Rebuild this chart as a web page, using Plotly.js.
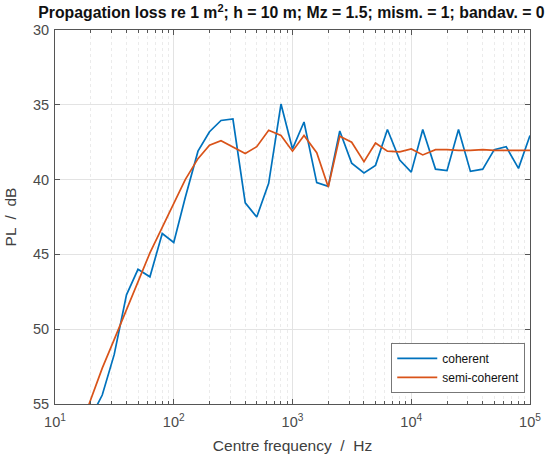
<!DOCTYPE html>
<html>
<head>
<meta charset="utf-8">
<script src="https://cdn.plot.ly/plotly-3.0.1.min.js"></script>
<style>html,body{margin:0;padding:0;background:#fff;}#chart{width:553px;height:458px;}</style>
</head>
<body>
<div id="chart"></div>
<script>
// One-third-octave band centre frequencies (Hz)
const freqs = [16, 20, 25, 31.5, 40, 50, 63, 80, 100, 125, 160, 200, 250, 315, 400, 500, 630, 800, 1000, 1250, 1600, 2000, 2500, 3150, 4000, 5000, 6300, 8000, 10000, 12500, 16000, 20000, 25000, 31500, 40000, 50000, 63000, 80000, 100000];
// Propagation loss (dB)
const coherent = [58.0, 55.9, 54.4, 51.7, 47.7, 46.0, 46.5, 43.6, 44.2, 41.2, 38.1, 36.8, 36.05, 35.95, 41.55, 42.5, 40.25, 34.95, 37.95, 36.15, 40.2, 40.45, 36.75, 38.9, 39.55, 39.05, 36.65, 38.7, 39.5, 36.65, 39.3, 39.4, 36.65, 39.45, 39.3, 38.0, 37.8, 39.25, 37.05];
const semiCoherent = [56.8, 54.7, 52.6, 50.7, 48.7, 46.8, 44.9, 43.2, 41.6, 40.0, 38.6, 37.7, 37.4, 37.8, 38.25, 37.8, 36.7, 37.05, 38.1, 37.05, 38.2, 40.5, 37.1, 37.5, 38.8, 37.55, 38.1, 38.15, 37.95, 38.35, 38.0, 38.0, 38.05, 38.05, 38.0, 38.05, 38.05, 38.05, 38.05];
const xTickVals = [10, 100, 1000, 10000, 100000];
const xTickText = ['10<sup>1</sup>', '10<sup>2</sup>', '10<sup>3</sup>', '10<sup>4</sup>', '10<sup>5</sup>'];
const xMinorVals = [20, 30, 40, 50, 60, 70, 80, 90,
                    200, 300, 400, 500, 600, 700, 800, 900,
                    2000, 3000, 4000, 5000, 6000, 7000, 8000, 9000,
                    20000, 30000, 40000, 50000, 60000, 70000, 80000, 90000];
const yTickVals = [30, 35, 40, 45, 50, 55];

const font = "Liberation Sans, Arial, Helvetica, sans-serif";
const traces = [
  {x: freqs, y: coherent, name: 'coherent', type: 'scatter', mode: 'lines',
   line: {color: '#0072BD', width: 1.7}},
  {x: freqs, y: semiCoherent, name: 'semi-coherent', type: 'scatter', mode: 'lines',
   line: {color: '#D95319', width: 1.7}}
];
const axisCommon = {
  showline: true, linecolor: '#555', linewidth: 1, mirror: 'ticks',
  ticks: 'inside', ticklen: 5, tickcolor: '#555',
  showgrid: true, gridcolor: '#e3e3e3', gridwidth: 1,
  zeroline: false,
  tickfont: {family: font, size: 14.5, color: '#4a4a4a'}
};
const layout = {
  width: 553, height: 458,
  margin: {l: 55, r: 23, t: 30, b: 54},
  paper_bgcolor: '#fff', plot_bgcolor: '#fff',
  font: {family: font, color: '#404040'},
  showlegend: true,
  title: {text: 'Propagation loss re 1 m<sup>2</sup>; h = 10 m; Mz = 1.5; mism. = 1; bandav. = 0',
          font: {family: font, size: 15.8, color: '#111', weight: 'bold'},
          x: 0.527, xanchor: 'center', y: 0.972, yanchor: 'middle'},
  xaxis: Object.assign({}, axisCommon, {
    type: 'log', range: [1, 5], tickvals: xTickVals, ticktext: xTickText,
    ticklabelstandoff: 5,
    minor: {tickvals: xMinorVals, ticks: 'inside', ticklen: 3, tickcolor: '#555', showgrid: true,
            gridcolor: '#ebebeb', griddash: 'dot', gridwidth: 1},
    title: {text: 'Centre frequency  /  Hz', font: {family: font, size: 15.5, color: '#404040'}, standoff: 10}
  }),
  yaxis: Object.assign({}, axisCommon, {
    range: [55, 30], tickvals: yTickVals, ticklabelstandoff: 2,
    title: {text: 'PL  /  dB', font: {family: font, size: 15.5, color: '#404040'}, standoff: 12}
  }),
  legend: {x: 0.99, xanchor: 'right', y: 0.03, yanchor: 'bottom',
           bgcolor: '#fff', bordercolor: '#777', borderwidth: 1,
           font: {family: font, size: 12, color: '#111'},
           tracegroupgap: 0, itemwidth: 40}
};
Plotly.newPlot('chart', traces, layout, {displayModeBar: false, staticPlot: true});
</script>
</body>
</html>
